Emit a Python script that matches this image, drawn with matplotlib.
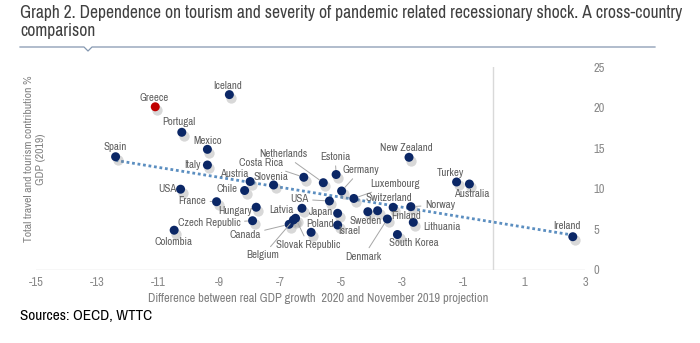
import numpy as np
import matplotlib
matplotlib.use("Agg")
import matplotlib.pyplot as plt
from matplotlib.lines import Line2D
from matplotlib import transforms

# ---------------- data ----------------
countries = ["Iceland", "Greece", "Portugal", "Mexico", "Spain", "Italy", "Austria",
             "Slovenia", "USA", "Chile", "France", "Hungary", "Czech Republic",
             "Colombia", "Canada", "Belgium", "Slovak Republic", "Latvia", "USA",
             "Japan", "Israel", "Poland", "Costa Rica", "Netherlands", "Estonia",
             "Germany", "Luxembourg", "Sweden", "Switzerland", "Finland", "Norway",
             "Denmark", "Lithuania", "South Korea", "New Zealand", "Turkey",
             "Australia", "Ireland"]
gdp_gap = [-8.66, -11.09, -10.22, -9.38, -12.39, -9.38, -7.98,
           -7.21, -10.26, -8.16, -9.08, -7.78, -7.90,
           -10.47, -6.70, -6.56, -6.49, -6.28, -5.38,
           -5.11, -5.11, -5.98, -6.22, -5.58, -5.16,
           -4.98, -4.58, -4.12, -3.80, -3.29, -2.71,
           -3.48, -2.63, -3.15, -2.77, -1.21,
           -0.79, 2.60]
tourism_share = [21.6, 20.1, 16.96, 14.86, 13.95, 12.93, 10.9,
                 10.47, 9.95, 9.79, 8.41, 7.73, 6.07,
                 4.9, 5.63, 6.16, 6.37, 7.6, 8.5,
                 6.98, 5.54, 4.64, 11.42, 10.75, 11.76,
                 9.73, 8.81, 7.18, 7.30, 7.72, 7.80,
                 6.28, 5.87, 4.37, 13.88, 10.84,
                 10.59, 4.10]
trend_x = [-12.39, 2.60]
trend_y = [13.5, 4.3]
highlight = "Greece"
x_ticks = [-15, -13, -11, -9, -7, -5, -3, -1, 1, 3]
y_ticks = [0, 5, 10, 15, 20, 25]

# label offsets (pixels, y up) relative to marker
label_off = {
    0: (-1.6, 8.3), 1: (-1.3, 8.4), 2: (-2.7, 10), 3: (0.4, 8.6), 4: (-0.7, 9.4),
    5: (-14.8, -0.3), 6: (-15.7, 7.5), 7: (-2.5, 8), 8: (-13.4, 0.2), 9: (-17.8, 1.2),
    10: (-24.5, 1), 11: (-21.2, -3.5), 12: (-43.5, -2.6), 13: (-0.2, -11.8),
    14: (-44.3, -10.7), 15: (-30.5, -35.5), 16: (12.8, -26.7), 17: (-20.3, -1.7),
    18: (-30, 1.7), 19: (-16.7, 1), 20: (11.6, -5.7), 21: (9, 8), 22: (-42.7, 14.3),
    23: (-40, 28.7), 24: (-1, 17.8), 25: (19, 21), 26: (41.2, 14.5), 27: (-2.7, -9.3),
    28: (11.3, 12.4), 29: (12.7, -8.4), 30: (29.3, 1.7), 31: (-24, -37.7),
    32: (28.4, -5), 33: (16, -8.8), 34: (-2.3, 9.6), 35: (-6, 8.7), 36: (2.4, -10),
    37: (-6, 11),
}
leaders = {10, 12, 14, 15, 16, 18, 22, 23, 24, 25, 26, 30, 31}

plt.rcParams["font.family"] = ["Archivo Narrow", "DejaVu Sans"]

W, H = 700, 343
fig = plt.figure(figsize=(W / 100, H / 100), dpi=100)
ax = fig.add_axes([36 / W, (H - 270) / H, 549 / W, 203 / H])
ax.set_xlim(-15, 3)
ax.set_ylim(0, 25)
for s in ax.spines.values():
    s.set_visible(False)
ax.axhline(0, color="#d9d9d9", lw=1.0, zorder=1)
ax.axvline(0, color="#d9d9d9", lw=1.0, zorder=1)

ax.set_xticks(x_ticks)
ax.set_xticklabels([str(v) for v in x_ticks])
ax.set_yticks(y_ticks)
ax.set_yticklabels([str(v) for v in y_ticks])
ax.yaxis.tick_right()
ax.tick_params(axis="both", length=0, colors="#8a8a8a", labelsize=9)
ax.tick_params(axis="x", pad=5)
ax.tick_params(axis="y", pad=6)
for t in ax.get_yticklabels():
    t.set_ha("left")

x = np.array(gdp_gap)
y = np.array(tourism_share)

ax.plot(trend_x, trend_y, ls=(0, (1, 1)), color="#5b8ec0", lw=2.0, zorder=2)

# shadows
shadow_tr = ax.transData + transforms.ScaledTranslation(1.5 / 72, -2.5 / 72, fig.dpi_scale_trans)
ax.scatter(x, y, s=55, color="#7f7f7f", alpha=0.3, lw=0, transform=shadow_tr, zorder=3)
colors = ["#c00000" if c == highlight else "#0b2766" for c in countries]
ax.scatter(x, y, s=42, c=colors, lw=0, zorder=4)

px2pt = 72 / 100
for i, name in enumerate(countries):
    dx, dy = label_off[i]
    kw = {}
    if i in leaders:
        kw["arrowprops"] = dict(arrowstyle="-", color="#a6a6a6", lw=0.7,
                                shrinkA=1, shrinkB=3.5)
    ax.annotate(name, (x[i], y[i]), xytext=(dx * px2pt, dy * px2pt),
                textcoords="offset points", ha="center", va="center",
                fontsize=7.8, color="#5f5f5f", zorder=5, **kw)

# axis titles
fig.text(318 / W, 1 - 299 / H, "Difference between real GDP growth  2020 and November 2019 projection",
         ha="center", va="center", fontsize=9, color="#808080")
fig.text(35 / W, 1 - 159 / H, "Total travel and tourism contribution %\nGDP (2019)",
         ha="center", va="center", rotation=90, fontsize=8.4, color="#808080",
         multialignment="center", linespacing=1.15)

# title
fig.text(20 / W, 1 - 22 / H,
         "Graph 2. Dependence on tourism and severity of pandemic related recessionary shock. A cross-country\ncomparison",
         ha="left", va="center", fontsize=12.6, color="#404040", linespacing=1.1)
# separator with notch
ly = 1 - 47 / H
fig.add_artist(Line2D([20 / W, 84 / W, 88 / W, 92 / W, 655 / W],
                      [ly, ly, ly - 4 / H, ly, ly], color="#8497b0", lw=0.9))

fig.text(20 / W, 1 - 316 / H, "Sources: OECD, WTTC", ha="left", va="center",
         fontsize=11, color="#000000")

fig.savefig("out.png", dpi=100)
